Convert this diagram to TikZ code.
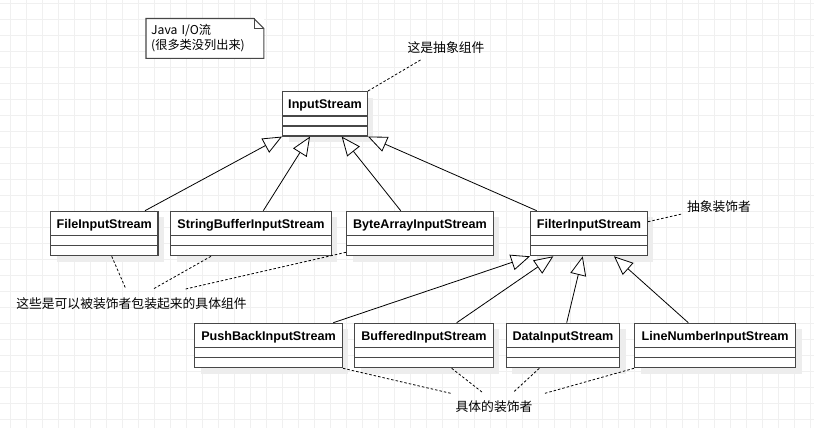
\documentclass[tikz,border=0pt]{standalone}
\usepackage{fontspec}
\setmainfont{Liberation Sans}
\newfontfamily\cjk{Noto Sans CJK SC}
\usetikzlibrary{arrows.meta,shadows}

\begin{document}
\begin{tikzpicture}[x=1pt, y=-1pt,
  block/.style={draw=black!72, line width=1.3pt, fill=white, anchor=north west, inner sep=0pt,
    minimum height=44.3pt, text height=9pt, text depth=19.3pt,
    font=\fontsize{12.6pt}{15pt}\selectfont\bfseries,
    drop shadow={shadow xshift=6pt, shadow yshift=-6pt, fill=black!7, opacity=1}},
  sep/.style={draw=black!72, line width=1.3pt},
  inherit/.style={-{Triangle[open, length=19pt, width=16pt, fill=white]}, line width=0.8pt},
  comment/.style={line width=0.8pt, dash pattern=on 2.5pt off 2pt},
  lbl/.style={inner sep=0pt, font=\cjk\fontsize{12.8pt}{15pt}\selectfont},
  gridline/.style={draw=black!6, line width=0.8pt}]

  \useasboundingbox[fill=white] (0,0) rectangle (814,428);

  % Grid
  \foreach \gx in {10,26,...,810} \draw[gridline] (\gx,0) -- (\gx,428);
  \foreach \gy in {3,19,...,427} \draw[gridline] (0,\gy) -- (814,\gy);

  % Note
  \node[anchor=north west, fill=white, inner xsep=5pt, inner ysep=0pt, minimum height=39.5pt,
        text width=107.5pt, align=left, font=\cjk\fontsize{12.2pt}{15pt}\selectfont]
        (note) at (146,18.5) {Java I/O流\\(很多类没列出来)};
  \draw[draw=black!72, line width=1.1pt]
        (note.north west) -- ([xshift=-10pt]note.north east) -- ([yshift=-10pt]note.north east)
        -- (note.south east) -- (note.south west) -- cycle;
  \draw[draw=black!72, line width=0.8pt] ([xshift=-10pt]note.north east) |- ([yshift=-10pt]note.north east);

  % Classes
  \foreach \nm/\x/\y/\w/\txt in {
      in/282/91/84.7/InputStream,
      file/50/210.7/107.3/FileInputStream,
      sbuf/170/210.7/160.7/StringBufferInputStream,
      barr/346/210.7/146.7/ByteArrayInputStream,
      filter/530/210.7/116.7/FilterInputStream,
      push/194/322.7/147.7/PushBackInputStream,
      buff/354/322.7/138.7/BufferedInputStream,
      data/505.7/322.7/113.3/DataInputStream,
      line/634/322.7/161/LineNumberInputStream} {
    \node[block, minimum width=\w pt] (\nm) at (\x,\y) {\txt};
    \draw[sep] ([yshift=-25pt]\nm.north west) -- ([yshift=-25pt]\nm.north east)
               ([yshift=-35pt]\nm.north west) -- ([yshift=-35pt]\nm.north east);
  }

  % Labels
  \node[lbl] (comp) at (446,47.5) {这是抽象组件};
  \node[lbl] (deco) at (719,206.5) {抽象装饰者};
  \node[lbl] (concomp) at (131.5,303.3) {这些是可以被装饰者包装起来的具体组件};
  \node[lbl] (condeco) at (494,406.7) {具体的装饰者};

  \coordinate (c1) at (421.7,59.3);
  \coordinate (d1) at (681.7,214);
  \coordinate (e1) at (126,289.3);
  \coordinate (e2) at (152.7,289.3);
  \coordinate (e3) at (184.3,289.3);
  \coordinate (f1) at (450.7,393.3);
  \coordinate (f2) at (482.3,392.3);
  \coordinate (f3) at (513.3,392.3);
  \coordinate (f4) at (545,393.3);

  % Inheritance
  \draw[inherit] ([xshift=95pt]file.north west) -- (in.south west);
  \draw[inherit] ([xshift=93.3pt]sbuf.north west) -- ([xshift=28pt]in.south west);
  \draw[inherit] ([xshift=54.7pt]barr.north west) -- ([xshift=59.7pt]in.south west);
  \draw[inherit] ([xshift=6.7pt]filter.north west) -- (in.south east);
  \draw[inherit] ([xshift=139.3pt]push.north west) -- (filter.south west);
  \draw[inherit] ([xshift=102.7pt]buff.north west) -- ([xshift=23.3pt]filter.south west);
  \draw[inherit] ([xshift=61pt]data.north west) -- ([xshift=52.7pt]filter.south west);
  \draw[inherit] ([xshift=54.3pt]line.north west) -- ([xshift=84pt]filter.south west);

  % Comments
  \draw[comment] (in.north east) -- (c1);
  \draw[comment] ([yshift=-11pt]filter.north east) -- (d1);
  \draw[comment] ([xshift=61.7pt]file.south west) -- (e1);
  \draw[comment] ([xshift=41pt]sbuf.south west) -- (e2);
  \draw[comment] ([yshift=4pt]barr.south west) -- (e3);
  \draw[comment] (push.south east) -- (f1);
  \draw[comment] ([xshift=97.7pt]buff.south west) -- (f2);
  \draw[comment] ([xshift=33.6pt]data.south west) -- (f3);
  \draw[comment] (line.south west) -- (f4);

\end{tikzpicture}
\end{document}
